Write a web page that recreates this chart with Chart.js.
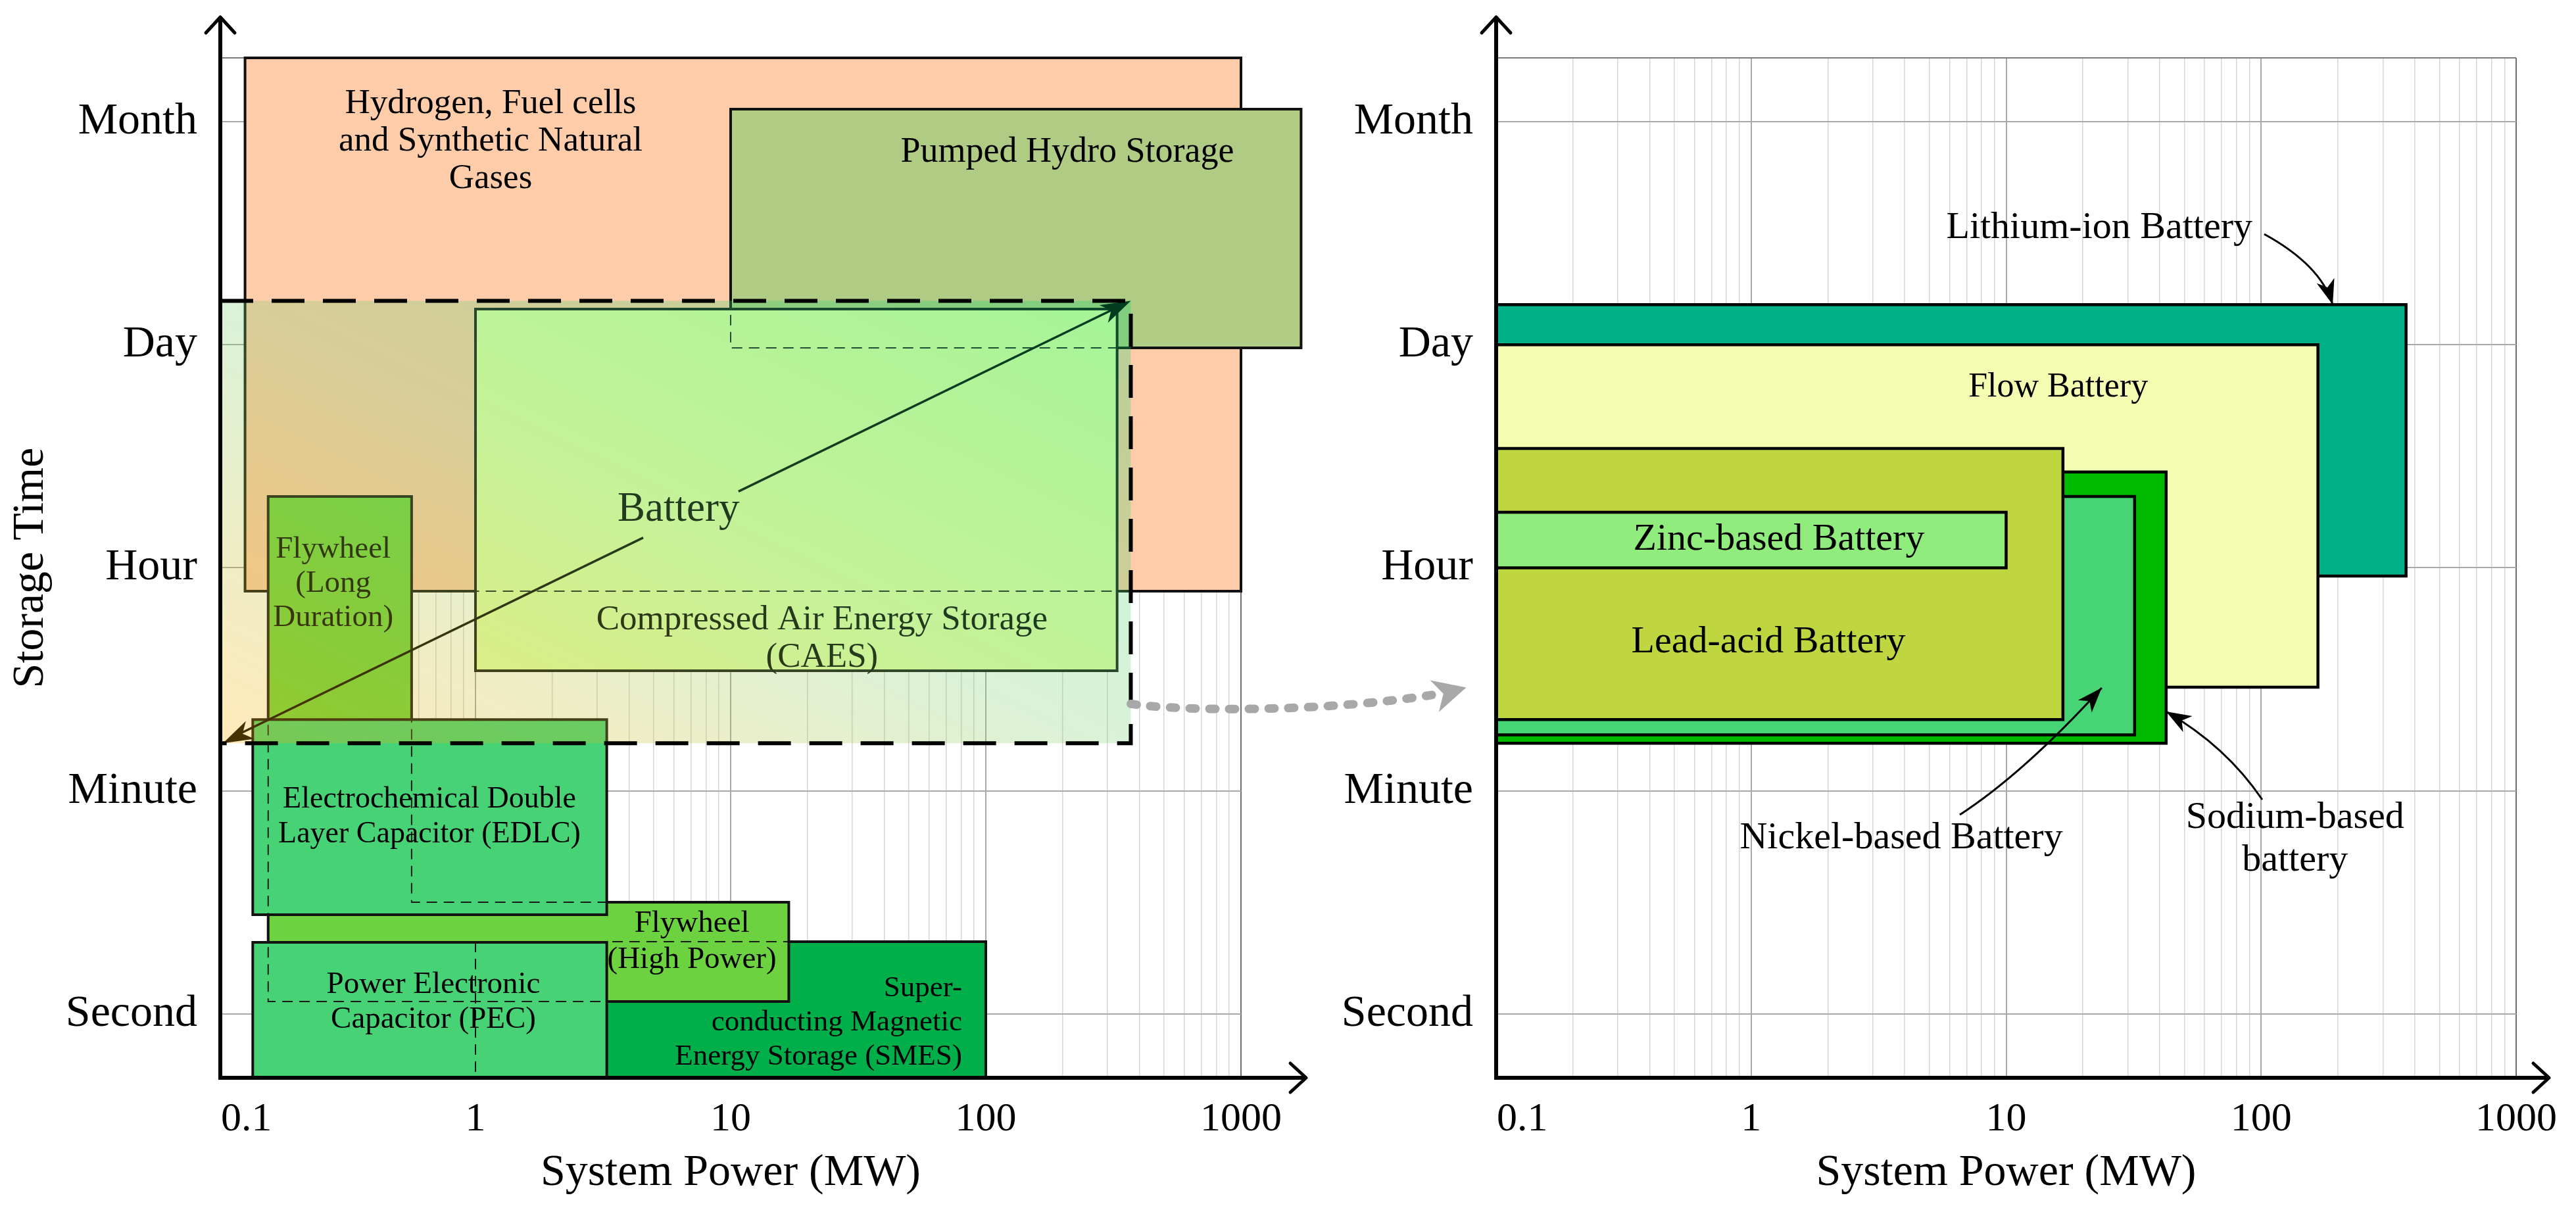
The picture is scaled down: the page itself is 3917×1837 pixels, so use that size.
<!DOCTYPE html>
<html><head><meta charset="utf-8">
<script src="https://cdn.jsdelivr.net/npm/chart.js@4.4.1/dist/chart.umd.min.js"></script>
<style>
html,body{margin:0;padding:0;background:#fff;}
#wrap{position:relative;width:3917px;height:1837px;overflow:hidden;background:#fff;}
canvas{position:absolute;top:0;}
#c1{left:0;} #c2{left:2000px;}
</style></head><body>
<div id="wrap"><canvas id="c1" width="2260" height="1837"></canvas><canvas id="c2" width="1917" height="1837"></canvas></div>
<script>
// ---------------- axis data ----------------
const yTickValues = [1, 2, 3, 4, 5];
const yTickLabels = ['Second', 'Minute', 'Hour', 'Day', 'Month'];
const yRange = [0.714, 5.286];
const xMajorValues = [0.1, 1, 10, 100, 1000];
const xTickLabels = ['0.1', '1', '10', '100', '1000'];
const xMinorMultipliers = [2, 3, 4, 5, 6, 7, 8, 9];
const xRange = [0.1, 1000];
const leftAxisEnd = 1800;   // MW where the left x-axis arrow ends
const rightAxisEnd = 1346;  // MW where the right x-axis arrow ends

// ---------------- left panel data (power in MW, time in level units) ----------------
const leftNames = ['Hydrogen, Fuel cells and Synthetic Natural Gases', 'Pumped Hydro Storage',
  'Compressed Air Energy Storage (CAES)', 'Super-conducting Magnetic Energy Storage (SMES)',
  'Flywheel (Long Duration)', 'Flywheel (High Power)',
  'Electrochemical Double Layer Capacitor (EDLC)', 'Power Electronic Capacitor (PEC)'];
const leftPowerMin = [0.125, 10, 1, 1, 0.154, 0.154, 0.134, 0.134];
const leftPowerMax = [1000, 1720, 327, 100, 0.562, 16.9, 3.27, 3.27];
const leftTimeMin = [2.895, 3.986, 2.539, 0.714, 1.501, 1.056, 1.445, 0.714];
const leftTimeMax = [5.286, 5.056, 4.16, 1.324, 3.32, 1.501, 2.32, 1.321];
const batteryPower = [0.1, 370];
const batteryTime = [2.214, 4.197];

// ---------------- right panel data ----------------
const rightNames = ['Lithium-ion Battery', 'Flow Battery', 'Sodium-based battery',
  'Nickel-based Battery', 'Lead-acid Battery', 'Zinc-based Battery'];
const rightPowerMin = [0.1, 0.1, 0.1, 0.1, 0.1, 0.1];
const rightPowerMax = [370, 167, 42.4, 31.9, 16.7, 10];
const rightTimeMin = [2.963, 2.465, 2.214, 2.251, 2.32, 3.0];
const rightTimeMax = [4.18, 4.0, 3.43, 3.32, 3.535, 3.249];

// ---------------- styles / layout ----------------
const SERIF = "'Liberation Serif','Times New Roman',serif";
const font = s => s + 'px ' + SERIF;
const leftFill = ['#fecca8', '#b0cb84', '#e4ffa8', '#00ae4a', '#6dd240', '#6dd240', '#46d275', '#46d275'];
const leftGroups = [[0], [1], [2], [3], [4, 5], [6], [7]];
const leftReveal = [[], [], [0, 1], [], [3], [4], [4, 3]];
const rightFill = ['#00b088', '#f3fcb0', '#00ba00', '#46d475', '#bfd640', '#90ec7c'];

const leftLabels = [
  {lines: ['Hydrogen, Fuel cells', 'and Synthetic Natural', 'Gases'], at: [1.146, 4.912], gap: 57, size: 53},
  {lines: ['Pumped Hydro Storage'], at: [208.7, 4.861], size: 54},
  {lines: ['Compressed Air Energy Storage', '(CAES)'], at: [22.8, 2.682], gap: 57, size: 53},
  {lines: ['Super-', 'conducting Magnetic', 'Energy Storage (SMES)'], at: [80.7, 0.962], gap: 52, size: 45, align: 'right'},
  {lines: ['Flywheel', '(Long', 'Duration)'], at: [0.277, 2.928], gap: 52, size: 47},
  {lines: ['Flywheel', '(High Power)'], at: [7.05, 1.323], gap: 55, size: 47},
  {lines: ['Electrochemical Double', 'Layer Capacitor (EDLC)'], at: [0.66, 1.883], gap: 53, size: 46},
  {lines: ['Power Electronic', 'Capacitor (PEC)'], at: [0.684, 1.052], gap: 53, size: 47}
];
const batteryLabel = {text: 'Battery', at: [6.25, 3.261], size: 63};
const rightLabels = [
  {lines: ['Lithium-ion Battery'], at: [23.2, 4.522], size: 58},
  {lines: ['Flow Battery'], at: [16.0, 3.809], size: 52},
  {lines: ['Sodium-based', 'battery'], at: [135.8, 1.783], gap: 65, size: 58},
  {lines: ['Nickel-based Battery'], at: [3.88, 1.787], size: 58},
  {lines: ['Lead-acid Battery'], at: [1.169, 2.665], size: 58},
  {lines: ['Zinc-based Battery'], at: [1.285, 3.125], size: 58}
];
const rightPointers = [
  {from: [102.8, 4.496], ctrl: [171.4, 4.357], to: [190.8, 4.18]},
  {from: [101, 1.961], ctrl: [72.9, 2.2], to: [42.4, 2.356]},
  {from: [6.58, 1.893], ctrl: [11.8, 2.082], to: [23.7, 2.462]}
];

// ---------------- helpers ----------------
const isMajor = v => xMajorValues.some(m => Math.abs(v / m - 1) < 1e-9);
function buildXTicks() {
  const t = [];
  xMajorValues.forEach((m, k) => {
    t.push(m);
    if (k < xMajorValues.length - 1) xMinorMultipliers.forEach(f => t.push(m * f));
  });
  return t.map(v => ({value: v}));
}
function drawLines(ctx, lab, X, Y) {
  ctx.font = font(lab.size);
  ctx.fillStyle = '#000';
  ctx.textAlign = lab.align || 'center';
  ctx.textBaseline = 'middle';
  const n = lab.lines.length, gap = lab.gap || 0;
  const x = X(lab.at[0]), y = Y(lab.at[1]);
  lab.lines.forEach((s, k) => ctx.fillText(s, x, y + (k - (n - 1) / 2) * gap));
}
function stealth(ctx, tx, ty, ang, len, half, color) {
  const c = Math.cos(ang), s = Math.sin(ang);
  const bx = tx - len * c, by = ty - len * s;
  const nx = -s, ny = c;
  ctx.beginPath();
  ctx.moveTo(tx, ty);
  ctx.lineTo(bx + nx * half, by + ny * half);
  ctx.lineTo(tx - len * 0.72 * c, ty - len * 0.72 * s);
  ctx.lineTo(bx - nx * half, by - ny * half);
  ctx.closePath();
  ctx.fillStyle = color;
  ctx.fill();
}
function drawAxes(chart, xEndVal) {
  const ctx = chart.ctx, {left, bottom, top} = chart.chartArea;
  const xEnd = chart.scales.x.getPixelForValue(xEndVal);
  const yTip = top - 62;
  ctx.save();
  ctx.strokeStyle = '#000';
  ctx.setLineDash([]);
  ctx.lineWidth = 6;
  ctx.lineCap = 'butt';
  ctx.beginPath(); ctx.moveTo(left - 3, bottom); ctx.lineTo(xEnd - 2, bottom); ctx.stroke();
  ctx.beginPath(); ctx.moveTo(left, bottom + 3); ctx.lineTo(left, yTip + 2); ctx.stroke();
  ctx.lineWidth = 5; ctx.lineCap = 'round'; ctx.lineJoin = 'round';
  ctx.beginPath(); ctx.moveTo(xEnd - 24, bottom - 22); ctx.lineTo(xEnd, bottom); ctx.lineTo(xEnd - 24, bottom + 22); ctx.stroke();
  ctx.beginPath(); ctx.moveTo(left - 22, yTip + 24); ctx.lineTo(left, yTip); ctx.lineTo(left + 22, yTip + 24); ctx.stroke();
  // x tick labels
  ctx.font = font(62);
  ctx.fillStyle = '#000';
  ctx.textBaseline = 'alphabetic';
  xMajorValues.forEach((v, i) => {
    const x = chart.scales.x.getPixelForValue(v);
    ctx.textAlign = i === 0 ? 'left' : 'center';
    ctx.fillText(xTickLabels[i], i === 0 ? x + 1 : x, bottom + 80);
  });
  ctx.restore();
}

// ---------------- left panel drawing ----------------
function groupPath(ctx, g, X, Y) {
  ctx.beginPath();
  if (g.length === 1) {
    const i = g[0];
    ctx.rect(X(leftPowerMin[i]), Y(leftTimeMax[i]), X(leftPowerMax[i]) - X(leftPowerMin[i]), Y(leftTimeMin[i]) - Y(leftTimeMax[i]));
  } else {
    const a = g[0], b = g[1];
    ctx.moveTo(X(leftPowerMin[a]), Y(leftTimeMax[a]));
    ctx.lineTo(X(leftPowerMax[a]), Y(leftTimeMax[a]));
    ctx.lineTo(X(leftPowerMax[a]), Y(leftTimeMax[b]));
    ctx.lineTo(X(leftPowerMax[b]), Y(leftTimeMax[b]));
    ctx.lineTo(X(leftPowerMax[b]), Y(leftTimeMin[b]));
    ctx.lineTo(X(leftPowerMin[b]), Y(leftTimeMin[b]));
    ctx.closePath();
  }
}
function drawLeft(chart) {
  const ctx = chart.ctx, xs = chart.scales.x, ys = chart.scales.y;
  const X = v => xs.getPixelForValue(v), Y = v => ys.getPixelForValue(v);
  ctx.save();
  leftGroups.forEach((g, gi) => {
    groupPath(ctx, g, X, Y);
    ctx.fillStyle = leftFill[g[0]];
    ctx.fill();
    if (leftReveal[gi].length) {
      ctx.save();
      groupPath(ctx, g, X, Y);
      ctx.clip();
      ctx.setLineDash([16, 10]);
      ctx.lineWidth = 2;
      ctx.strokeStyle = '#1a1a1a';
      leftReveal[gi].forEach(h => { groupPath(ctx, leftGroups[h], X, Y); ctx.stroke(); });
      ctx.restore();
    }
    groupPath(ctx, g, X, Y);
    ctx.setLineDash([]);
    ctx.lineWidth = 4;
    ctx.strokeStyle = '#111';
    ctx.stroke();
  });
  leftLabels.forEach(l => drawLines(ctx, l, X, Y));

  // battery double arrow with label
  const bx0 = X(batteryPower[0]), bx1 = X(batteryPower[1]);
  const by0 = Y(batteryTime[0]), by1 = Y(batteryTime[1]);
  const L = Math.hypot(bx1 - bx0, by1 - by0), ux = (bx1 - bx0) / L, uy = (by1 - by0) / L;
  const lx = X(batteryLabel.at[0]), ly = Y(batteryLabel.at[1]);
  const tc = (lx - bx0) * ux + (ly - by0) * uy;
  ctx.strokeStyle = '#000'; ctx.lineWidth = 3.5; ctx.lineCap = 'butt';
  ctx.beginPath(); ctx.moveTo(bx0 + ux * 30, by0 + uy * 30); ctx.lineTo(bx0 + ux * (tc - 67), by0 + uy * (tc - 67)); ctx.stroke();
  ctx.beginPath(); ctx.moveTo(bx0 + ux * (tc + 94), by0 + uy * (tc + 94)); ctx.lineTo(bx1 - ux * 30, by1 - uy * 30); ctx.stroke();
  const ang = Math.atan2(uy, ux);
  stealth(ctx, bx1, by1, ang, 46, 15, '#000');
  stealth(ctx, bx0 + 4, by0, ang + Math.PI, 46, 15, '#000');
  ctx.font = font(batteryLabel.size); ctx.fillStyle = '#000'; ctx.textAlign = 'center'; ctx.textBaseline = 'middle';
  ctx.fillText(batteryLabel.text, lx, ly);

  // translucent battery envelope: box shading whose iso-lines follow the anti-diagonal
  const w = bx1 - bx0, h = by0 - by1;
  const k = 2 * w * h / (w * w + h * h);
  const grad = ctx.createLinearGradient(bx0, by0, bx0 + h * k, by0 - w * k);
  grad.addColorStop(0, '#ffb000');
  grad.addColorStop(0.5, '#7ad070');
  grad.addColorStop(1, '#00d870');
  ctx.globalAlpha = 0.28;
  ctx.fillStyle = grad;
  ctx.fillRect(bx0, by1, w, h);
  ctx.globalAlpha = 1;
  ctx.setLineDash([50, 28]);
  ctx.lineWidth = 6;
  ctx.strokeStyle = '#000';
  ctx.strokeRect(bx0, by1, w, h);
  ctx.setLineDash([]);

  // grey dotted connector to the right panel
  const sx = bx1, sy = Y(2.39);
  ctx.strokeStyle = '#a8a8a8'; ctx.lineWidth = 13; ctx.lineCap = 'round';
  ctx.setLineDash([9, 21]);
  ctx.beginPath();
  ctx.moveTo(sx, sy);
  ctx.bezierCurveTo(sx + 83, sy + 12, sx + 303, sy + 12, sx + 460, sy - 14);
  ctx.stroke();
  ctx.setLineDash([]);
  stealth(ctx, sx + 510, sy - 25, Math.atan2(-11, 40), 50, 25, '#a8a8a8');
  ctx.restore();
  drawAxes(chart, leftAxisEnd);
}

// ---------------- right panel drawing ----------------
function drawRight(chart) {
  const ctx = chart.ctx, xs = chart.scales.x, ys = chart.scales.y;
  const X = v => xs.getPixelForValue(v), Y = v => ys.getPixelForValue(v);
  ctx.save();
  rightNames.forEach((n, i) => {
    ctx.beginPath();
    ctx.rect(X(rightPowerMin[i]), Y(rightTimeMax[i]), X(rightPowerMax[i]) - X(rightPowerMin[i]), Y(rightTimeMin[i]) - Y(rightTimeMax[i]));
    ctx.fillStyle = rightFill[i];
    ctx.fill();
    ctx.lineWidth = 4.5;
    ctx.strokeStyle = '#000';
    ctx.stroke();
  });
  rightLabels.forEach(l => drawLines(ctx, l, X, Y));
  rightPointers.forEach(p => {
    const fx = X(p.from[0]), fy = Y(p.from[1]), cx = X(p.ctrl[0]), cy = Y(p.ctrl[1]), tx = X(p.to[0]), ty = Y(p.to[1]);
    ctx.strokeStyle = '#000'; ctx.lineWidth = 3;
    ctx.beginPath(); ctx.moveTo(fx, fy); ctx.quadraticCurveTo(cx, cy, tx, ty); ctx.stroke();
    stealth(ctx, tx, ty, Math.atan2(ty - cy, tx - cx), 38, 14, '#000');
  });
  ctx.restore();
  drawAxes(chart, rightAxisEnd);
}

// ---------------- chart config ----------------
function makeConfig(names, pMin, pMax, tMin, tMax, canvasW, yWidth, plotRight, showYTitle, drawFn) {
  return {
    type: 'scatter',
    data: {
      datasets: names.map((n, i) => ({
        label: n,
        data: [{x: pMin[i], y: tMin[i]}, {x: pMax[i], y: tMax[i]}],
        pointRadius: 0, showLine: false
      }))
    },
    options: {
      responsive: false, animation: false, events: [],
      layout: {padding: {left: 0, top: 88, right: canvasW - plotRight, bottom: 0}},
      plugins: {legend: {display: false}, tooltip: {enabled: false}},
      scales: {
        x: {
          type: 'logarithmic', position: 'bottom', min: xRange[0], max: xRange[1],
          afterBuildTicks: s => { s.ticks = buildXTicks(); },
          afterFit: s => { s.height = 198; },
          ticks: {display: false},
          border: {display: false},
          grid: {
            drawTicks: false,
            color: c => { const v = c.tick ? c.tick.value : 0; if (Math.abs(v - 1000) < 1e-6) return '#6e6e6e'; return isMajor(v) ? '#a9a9a9' : '#d6d6d6'; },
            lineWidth: c => { const v = c.tick ? c.tick.value : 0; return isMajor(v) ? 2 : 1.5; }
          },
          title: {display: true, text: 'System Power (MW)', color: '#000', font: {family: SERIF, size: 68}, padding: {top: 0, bottom: 12}}
        },
        y: {
          type: 'linear', position: 'left', min: yRange[0], max: yRange[1],
          afterBuildTicks: s => { s.ticks = yTickValues.concat([yRange[1]]).map(v => ({value: v})); },
          afterFit: s => { s.width = yWidth; },
          ticks: {
            padding: 35, color: '#000', font: {family: SERIF, size: 68},
            callback: (v, i) => yTickLabels[i] || ''
          },
          border: {display: false},
          grid: {
            drawTicks: false,
            color: c => (c.tick && c.tick.value > 5.1) ? '#7a7a7a' : '#a9a9a9',
            lineWidth: 2
          },
          title: {display: showYTitle, text: 'Storage Time', color: '#000', font: {family: SERIF, size: 68}, padding: {top: 6, bottom: 0}}
        }
      }
    },
    plugins: [{id: 'panelDraw', afterDraw: drawFn}]
  };
}

new Chart(document.getElementById('c1'),
  makeConfig(leftNames, leftPowerMin, leftPowerMax, leftTimeMin, leftTimeMax, 2260, 335, 1887, true, drawLeft));
new Chart(document.getElementById('c2'),
  makeConfig(rightNames, rightPowerMin, rightPowerMax, rightTimeMin, rightTimeMax, 1917, 275, 1826, false, drawRight));
</script></body></html>
